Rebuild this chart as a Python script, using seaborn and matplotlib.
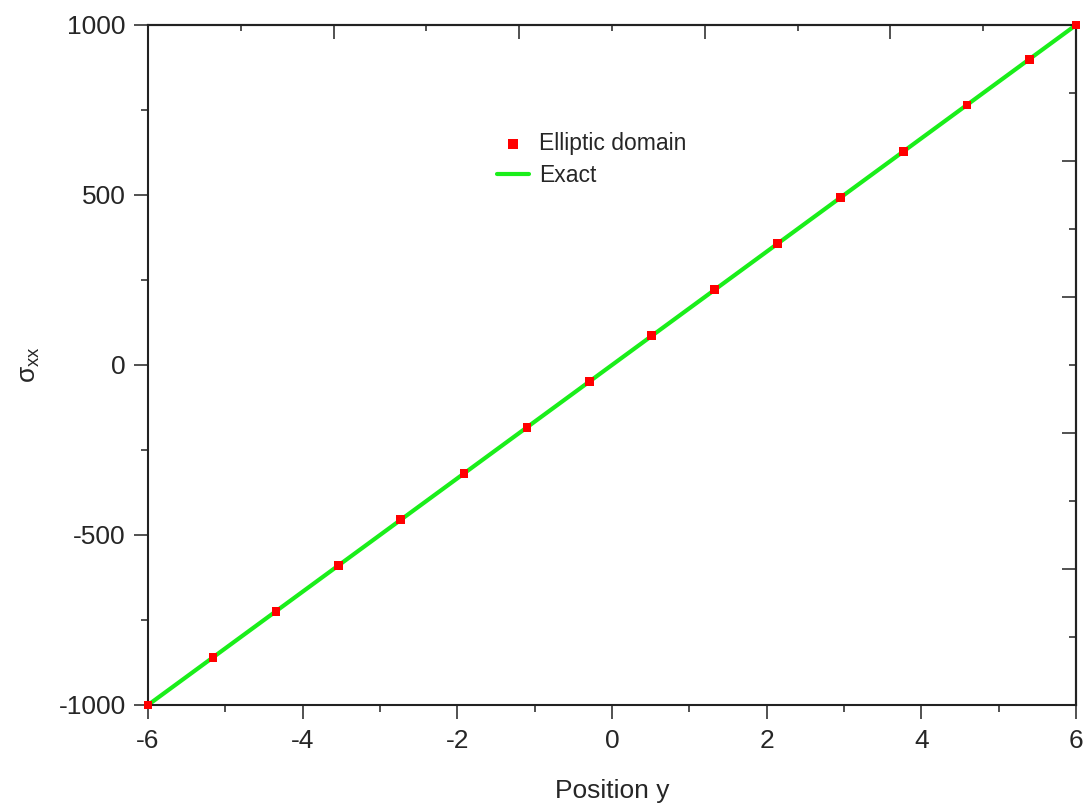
import numpy as np
import pandas as pd
import matplotlib
matplotlib.use("Agg")
import matplotlib.pyplot as plt
import seaborn as sns

# ---- data ----
elliptic_pos = [-6.0, -5.16, -4.345, -3.54, -2.73, -1.915, -1.10, -0.295,
                0.515, 1.33, 2.145, 2.95, 3.765, 4.59, 5.395, 6.0]
elliptic_sigma = [-1000, -860, -724, -590, -455, -319, -183, -49,
                  86, 222, 357, 492, 627, 765, 899, 1000]
exact_pos = [-6.0, 6.0]
exact_sigma = [-1000.0, 1000.0]

x_major = [-6, -4, -2, 0, 2, 4, 6]
x_minor = [-5, -3, -1, 1, 3, 5]
y_major = [-1000, -500, 0, 500, 1000]
y_minor = [-750, -250, 250, 750]
top_major = [-6, -3.6, -1.2, 1.2, 3.6, 6]
top_minor = [-4.8, -2.4, 0, 2.4, 4.8]
right_major = [-1000, -600, -200, 200, 600, 1000]
right_minor = [-800, -400, 0, 400, 800]

sns.set_theme(style="ticks")
plt.rcParams['font.family'] = ['Liberation Sans', 'DejaVu Sans']
plt.rcParams['mathtext.fontset'] = 'custom'
plt.rcParams['mathtext.rm'] = 'Liberation Sans'
plt.rcParams['mathtext.it'] = 'Liberation Sans'

fig = plt.figure(figsize=(10.86, 8.07), dpi=100)
ax = fig.add_axes([148/1086, 1 - 705/807, 928/1086, 680/807])

df_exact = pd.DataFrame({"pos": exact_pos, "sigma": exact_sigma})
df_ell = pd.DataFrame({"pos": elliptic_pos, "sigma": elliptic_sigma})

sns.lineplot(data=df_exact, x="pos", y="sigma", ax=ax, color="#1aee1a",
             linewidth=3, label="Exact", zorder=2)
sns.scatterplot(data=df_ell, x="pos", y="sigma", ax=ax, color="#ff0000",
                marker="s", s=40, edgecolor="none", linewidth=0,
                label="Elliptic domain", zorder=3, clip_on=False)

ax.set_xlim(-6, 6)
ax.set_ylim(-1000, 1000)
ax.set_xticks(x_major)
ax.set_xticks(x_minor, minor=True)
ax.set_yticks(y_major)
ax.set_yticks(y_minor, minor=True)
ax.set_xticklabels([str(v) for v in x_major])
ax.set_yticklabels([str(v) for v in y_major])

for s in ax.spines.values():
    s.set_linewidth(1.5)
    s.set_color("#222222")

ax.tick_params(which="major", direction="out", length=10, width=1.1,
               labelsize=19, color="#222222", pad=6)
ax.tick_params(which="minor", direction="out", length=5, width=1.1,
               color="#222222")
ax.tick_params(axis="x", which="major", pad=7)

secx = ax.secondary_xaxis('top')
secx.set_xticks(top_major)
secx.set_xticks(top_minor, minor=True)
secx.tick_params(which="major", direction="in", length=10, width=1.1,
                 labeltop=False, color="#222222")
secx.tick_params(which="minor", direction="in", length=4, width=1.1,
                 color="#222222")
secx.spines['top'].set_linewidth(1.5)

secy = ax.secondary_yaxis('right')
secy.set_yticks(right_major)
secy.set_yticks(right_minor, minor=True)
secy.tick_params(which="major", direction="in", length=10, width=1.1,
                 labelright=False, color="#222222")
secy.tick_params(which="minor", direction="in", length=5, width=1.1,
                 color="#222222")
secy.spines['right'].set_linewidth(1.5)

ax.set_xlabel("Position y", fontsize=19, labelpad=19)
ax.set_ylabel(r"σ$_{\mathregular{xx}}$", fontsize=19, labelpad=12)

handles, labels = ax.get_legend_handles_labels()
order = [labels.index("Elliptic domain"), labels.index("Exact")]
leg = ax.legend([handles[i] for i in order], [labels[i] for i in order],
                loc="upper left", bbox_to_anchor=(0.376, 0.843),
                frameon=False, fontsize=16.5, handlelength=1.4,
                handletextpad=0.44, labelspacing=0.41, borderpad=0,
                borderaxespad=0, markerscale=1.15)

fig.savefig("out.png", dpi=100)
